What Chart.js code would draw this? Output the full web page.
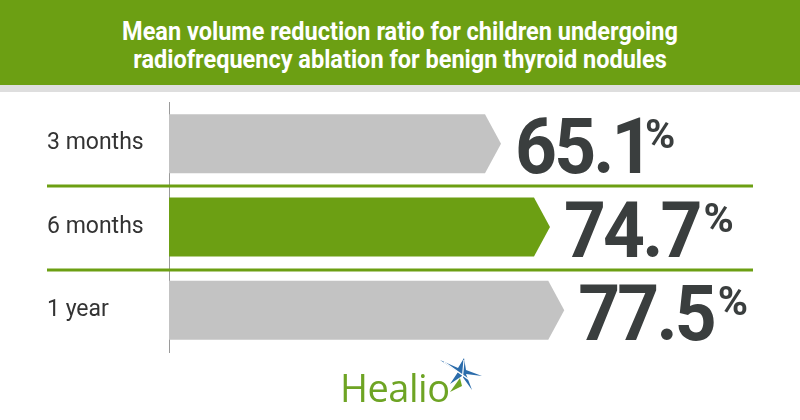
<!DOCTYPE html>
<html>
<head>
<meta charset="utf-8">
<script src="https://cdn.jsdelivr.net/npm/chart.js@4.4.0/dist/chart.umd.min.js"></script>
<style>
  body { margin: 0; width: 800px; height: 420px; overflow: hidden; background: #fff; font-family: Roboto, sans-serif; }
  #wrap { position: relative; width: 800px; height: 420px; }
  #header { position: absolute; left: 0; top: 0; width: 800px; height: 85px; background: #6c9f13; border-bottom: 7px solid #dedede; z-index: 2; }
  #header div { position: absolute; left: 0; width: 800px; text-align: center; color: #fff; font-weight: bold; font-size: 25px; line-height: 28px; transform: scaleX(0.94); }
  #logo { position: absolute; left: 340px; top: 356px; z-index: 2; }
  #logo span { position: absolute; left: 0; top: 5px; font-family: "Open Sans", sans-serif; font-size: 38px; color: #6ea424; letter-spacing: -0.5px; }
  #logo svg { position: absolute; left: 98px; top: 0; }
</style>
</head>
<body>
<div id="wrap">
  <div id="header">
    <div style="top:18px">Mean volume reduction ratio for children undergoing</div>
    <div style="top:46px">radiofrequency ablation for benign thyroid nodules</div>
  </div>
  <canvas id="myChart" width="800" height="420"></canvas>
  <div id="logo">
    <span>Healio</span>
    <svg width="46" height="36" viewBox="0 0 46 36">
      <polygon points="2,4 20,12 26,2 28,14 44,20 28,18 34,34 24,20 12,28 20,16" fill="#2b6cab"/>
      <polygon points="12,36 22,22 24,30" fill="#6ea424"/>
      <line x1="6" y1="6" x2="40" y2="30" stroke="#fff" stroke-width="1.5"/>
      <line x1="26" y1="4" x2="24" y2="26" stroke="#fff" stroke-width="1.2"/>
    </svg>
  </div>
</div>
<script>
const labels = ['3 months', '6 months', '1 year'];
const values = [65.1, 74.7, 77.5];
const barColors = ['#c3c3c3', '#6c9f13', '#c3c3c3'];

// draws bars as arrows, separators and big value labels
const arrowPlugin = {
  id: 'arrows',
  beforeDatasetDraw() {
    return false;
  },
  afterDatasetsDraw(chart) {
    const ctx = chart.ctx;
    const meta = chart.getDatasetMeta(0);
    const yScale = chart.scales.y;
    ctx.save();

    // green separators between rows
    ctx.strokeStyle = '#6c9f13';
    ctx.lineWidth = 3;
    for (let i = 0; i < labels.length - 1; i++) {
      const y = Math.round((yScale.getPixelForValue(i) + yScale.getPixelForValue(i + 1)) / 2) + 1;
      ctx.beginPath();
      ctx.moveTo(47, y);
      ctx.lineTo(753, y);
      ctx.stroke();
    }

    meta.data.forEach((bar, i) => {
      const head = 16;
      const top = bar.y - bar.height / 2;
      const bottom = bar.y + bar.height / 2;
      ctx.fillStyle = barColors[i];
      ctx.beginPath();
      ctx.moveTo(bar.base, top);
      ctx.lineTo(bar.x - head, top);
      ctx.lineTo(bar.x, bar.y);
      ctx.lineTo(bar.x - head, bottom);
      ctx.lineTo(bar.base, bottom);
      ctx.closePath();
      ctx.fill();

      // value label
      const txt = values[i].toFixed(1);
      const sx = 0.95;
      ctx.fillStyle = '#3a3e3e';
      ctx.textBaseline = 'alphabetic';
      ctx.textAlign = 'left';
      ctx.font = 'bold 77px Roboto';
      ctx.letterSpacing = '-3px';
      const right = ctx.measureText(txt).actualBoundingBoxRight * sx;
      const x0 = bar.x + 14;
      ctx.save();
      ctx.translate(x0, bottom);
      ctx.scale(sx, 1);
      ctx.fillText(txt, 0, 0);
      ctx.restore();
      ctx.letterSpacing = '0px';
      ctx.font = 'bold 41px Roboto';
      ctx.fillText('%', x0 + right + 4, bottom - 25);
    });
    ctx.restore();
  }
};

const data = {
  labels: labels,
  datasets: [
    {
      data: values,
      backgroundColor: barColors,
      barThickness: 59,
    }
  ]
};

const config = {
  type: 'bar',
  data: data,
  options: {
    indexAxis: 'y',
    responsive: false,
    animation: false,
    layout: {
      padding: { left: 47, top: 102, right: 121, bottom: 68 }
    },
    plugins: {
      legend: { display: false },
      tooltip: { enabled: false }
    },
    scales: {
      x: {
        display: false,
        min: 0,
        max: 100
      },
      y: {
        grid: { display: false },
        border: { display: true, color: '#9a9a9a', width: 1 },
        afterFit(scale) { scale.width = 122; },
        ticks: {
          crossAlign: 'far',
          color: '#333333',
          font: { family: 'Roboto', size: 23 }
        }
      }
    }
  },
  plugins: [arrowPlugin]
};

const myChart = new Chart(
  document.getElementById('myChart'),
  config
);
</script>
</body>
</html>
